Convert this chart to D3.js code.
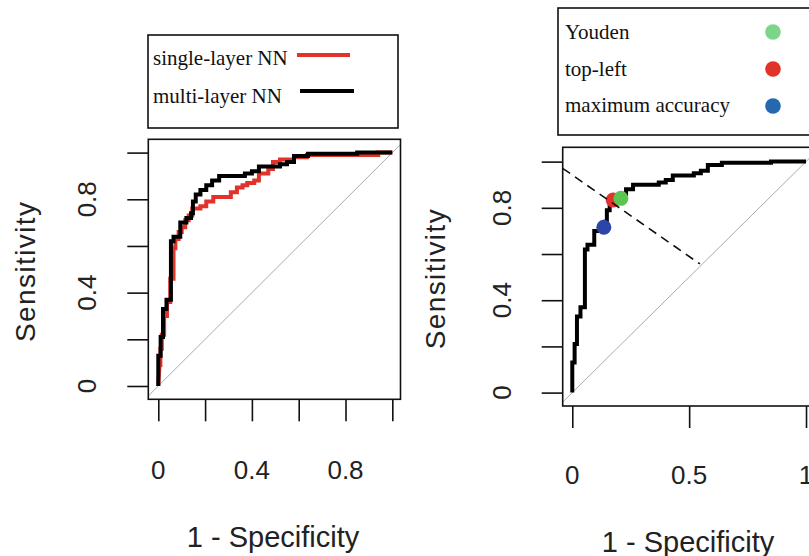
<!DOCTYPE html>
<html>
<head>
<meta charset="utf-8">
<script src="https://cdn.jsdelivr.net/npm/d3@7"></script>
<style>
  body { margin: 0; background: #fff; }
  text { font-family: "Liberation Sans", Arial, sans-serif; fill: #222; }
  .leg text { font-family: "Liberation Serif", "Times New Roman", serif; fill: #111; }
</style>
</head>
<body>
<svg width="809" height="556" id="mainsvg"></svg>
<script>
// ROC vertices as [1 - specificity, sensitivity]
const multiLayer = [[0,0],[0,0.13],[0.01,0.13],[0.01,0.21],[0.02,0.21],[0.02,0.33],[0.035,0.33],[0.035,0.37],
  [0.054,0.37],[0.054,0.62],[0.065,0.62],[0.065,0.64],[0.094,0.64],[0.094,0.70],[0.12,0.70],[0.12,0.72],
  [0.14,0.72],[0.14,0.74],[0.148,0.74],[0.148,0.79],[0.16,0.79],[0.16,0.82],[0.18,0.82],[0.18,0.84],
  [0.205,0.84],[0.205,0.86],[0.23,0.86],[0.23,0.88],[0.26,0.88],[0.26,0.90],[0.37,0.90],[0.37,0.91],
  [0.40,0.91],[0.40,0.92],[0.43,0.92],[0.43,0.94],[0.52,0.94],[0.52,0.95],[0.55,0.95],[0.55,0.96],
  [0.58,0.96],[0.58,0.985],[0.64,0.985],[0.64,0.995],[0.85,0.995],[0.85,1],[1,1]];
const singleLayer = [[0,0],[0.005,0.09],[0.009,0.09],[0.009,0.16],[0.015,0.16],[0.015,0.22],[0.025,0.22],
  [0.025,0.30],[0.037,0.30],[0.037,0.36],[0.051,0.36],[0.051,0.46],[0.065,0.46],[0.065,0.59],[0.073,0.59],
  [0.073,0.63],[0.087,0.63],[0.087,0.66],[0.10,0.66],[0.10,0.68],[0.115,0.68],[0.115,0.71],[0.13,0.71],
  [0.13,0.73],[0.145,0.73],[0.145,0.76],[0.18,0.76],[0.18,0.77],[0.205,0.77],[0.205,0.79],[0.235,0.79],
  [0.235,0.81],[0.31,0.81],[0.31,0.83],[0.336,0.83],[0.336,0.85],[0.36,0.85],[0.36,0.86],[0.38,0.86],
  [0.38,0.87],[0.41,0.87],[0.41,0.88],[0.43,0.88],[0.43,0.91],[0.47,0.91],[0.47,0.93],[0.49,0.93],
  [0.49,0.96],[0.52,0.96],[0.52,0.97],[0.58,0.97],[0.58,0.98],[0.635,0.98],[0.635,0.99],[0.94,0.99],
  [0.94,1],[1,1]];
const modelNames = ['single-layer NN', 'multi-layer NN'];
const modelColors = ['#e2322a', '#000000'];

const cutNames = ['Youden', 'top-left', 'maximum accuracy'];
const cutPoints = [[0.208, 0.841], [0.175, 0.834], [0.135, 0.716]];
const cutColors = ['#5cc452', '#e6302a', '#2b45a8'];
const cutLegendColors = ['#7bd68a', '#e0342a', '#2468b0'];
const drawOrder = [1, 0, 2];
const dashedSegment = [[-0.041, 0.971], [0.546, 0.557]];

const leftXTicks = [0, 0.2, 0.4, 0.6, 0.8, 1];
const leftXLabels = ['0', '', '0.4', '', '0.8', ''];
const rightXTicks = [0, 0.5, 1];
const rightXLabels = ['0', '0.5', '1'];
const yTicks = [0, 0.2, 0.4, 0.6, 0.8, 1];
const yLabels = ['0', '', '0.4', '', '0.8', ''];

const svg = d3.select('svg');

function panel(box, xDom, yDom, xTicks, xLabels, xLabY, yLabX, yTitleX, xTitle) {
  const x = d3.scaleLinear().domain(xDom).range([box.left, box.right]);
  const y = d3.scaleLinear().domain(yDom).range([box.bottom, box.top]);
  const g = svg.append('g');
  const clipId = 'clip' + Math.round(box.left);
  g.append('clipPath').attr('id', clipId).append('rect')
    .attr('x', box.left).attr('y', box.top)
    .attr('width', box.right - box.left).attr('height', box.bottom - box.top);
  const inner = g.append('g').attr('clip-path', `url(#${clipId})`);
  // chance diagonal
  inner.append('line')
    .attr('x1', x(-0.1)).attr('y1', y(-0.1)).attr('x2', x(1.1)).attr('y2', y(1.1))
    .attr('stroke', '#aaa').attr('stroke-width', 1);
  g.append('rect')
    .attr('x', box.left).attr('y', box.top)
    .attr('width', box.right - box.left).attr('height', box.bottom - box.top)
    .attr('fill', 'none').attr('stroke', '#111').attr('stroke-width', 1.6);

  const xa = g.append('g').attr('transform', `translate(0,${box.bottom})`)
    .call(d3.axisBottom(x).tickValues(xTicks).tickSize(22).tickFormat(''));
  xa.select('.domain').remove();
  xa.selectAll('line').attr('stroke', '#111').attr('stroke-width', 1.6);
  g.selectAll('.xl').data(xTicks).join('text')
    .attr('x', d => x(d)).attr('y', xLabY)
    .attr('text-anchor', 'middle').attr('dominant-baseline', 'central')
    .attr('font-size', 26).text((d, i) => xLabels[i]);

  const ya = g.append('g').attr('transform', `translate(${box.left},0)`)
    .call(d3.axisLeft(y).tickValues(yTicks).tickSize(21).tickFormat(''));
  ya.select('.domain').remove();
  ya.selectAll('line').attr('stroke', '#111').attr('stroke-width', 1.6);
  g.selectAll('.yl').data(yTicks).join('text')
    .attr('transform', d => `translate(${yLabX},${y(d)}) rotate(-90)`)
    .attr('text-anchor', 'middle').attr('dominant-baseline', 'central')
    .attr('font-size', 26).text((d, i) => yLabels[i]);

  g.append('text')
    .attr('transform', `translate(${yTitleX},${(box.top + box.bottom) / 2 + 2}) rotate(-90)`)
    .attr('text-anchor', 'middle').attr('dominant-baseline', 'central')
    .attr('font-size', 28).attr('letter-spacing', 1.4).text('Sensitivity');
  g.append('text')
    .attr('x', xTitle.x).attr('y', xTitle.y)
    .attr('text-anchor', 'middle').attr('dominant-baseline', 'central')
    .attr('font-size', 29).text('1 - Specificity');
  return { x, y, inner, g };
}

const line = (x, y) => d3.line().x(d => x(d[0])).y(d => y(d[1]));

// left panel
const L = panel({ left: 148.3, right: 400.5, top: 139.3, bottom: 399.3 },
  [-0.0427, 1.035], [-0.057, 1.057], leftXTicks, leftXLabels, 470, 87, 25, { x: 273, y: 537 });
[singleLayer, multiLayer].forEach((pts, i) => {
  L.inner.append('path').datum(pts)
    .attr('d', line(L.x, L.y))
    .attr('fill', 'none').attr('stroke', modelColors[i]).attr('stroke-width', 4)
    .attr('stroke-linejoin', 'miter');
});

const legL = svg.append('g').attr('class', 'leg');
legL.append('rect').attr('x', 148).attr('y', 35).attr('width', 250).attr('height', 93)
  .attr('fill', '#fff').attr('stroke', '#111').attr('stroke-width', 1.6);
modelNames.forEach((name, i) => {
  legL.append('text').attr('x', 153).attr('y', 65 + i * 38).attr('font-size', 21).text(name);
  legL.append('line').attr('x1', 297 + i * 3).attr('x2', 350 + i * 4)
    .attr('y1', 55 + i * 36).attr('y2', 55 + i * 36)
    .attr('stroke', modelColors[i]).attr('stroke-width', 4);
});

// right panel
const R = panel({ left: 562.7, right: 815.6, top: 147.3, bottom: 406 },
  [-0.041, 1.041], [-0.058, 1.062], rightXTicks, rightXLabels, 475, 502, 435, { x: 688, y: 542 });
R.inner.append('path').datum(multiLayer)
  .attr('d', line(R.x, R.y))
  .attr('fill', 'none').attr('stroke', '#000').attr('stroke-width', 4);
R.inner.selectAll('circle').data(drawOrder).join('circle')
  .attr('cx', i => R.x(cutPoints[i][0])).attr('cy', i => R.y(cutPoints[i][1])).attr('r', 7.5)
  .attr('fill', i => cutColors[i]);
R.inner.append('path').datum(dashedSegment)
  .attr('d', line(R.x, R.y))
  .attr('fill', 'none').attr('stroke', '#111').attr('stroke-width', 1.6)
  .attr('stroke-dasharray', '9,6');

const legR = svg.append('g').attr('class', 'leg');
legR.append('rect').attr('x', 558).attr('y', 8).attr('width', 270).attr('height', 127)
  .attr('fill', '#fff').attr('stroke', '#111').attr('stroke-width', 1.6);
cutNames.forEach((name, i) => {
  legR.append('text').attr('x', 565).attr('y', 39 + i * 36.5).attr('font-size', 21).text(name);
  legR.append('circle').attr('cx', 773).attr('cy', 32 + i * 37).attr('r', 7.8)
    .attr('fill', cutLegendColors[i]);
});
</script>
</body>
</html>
